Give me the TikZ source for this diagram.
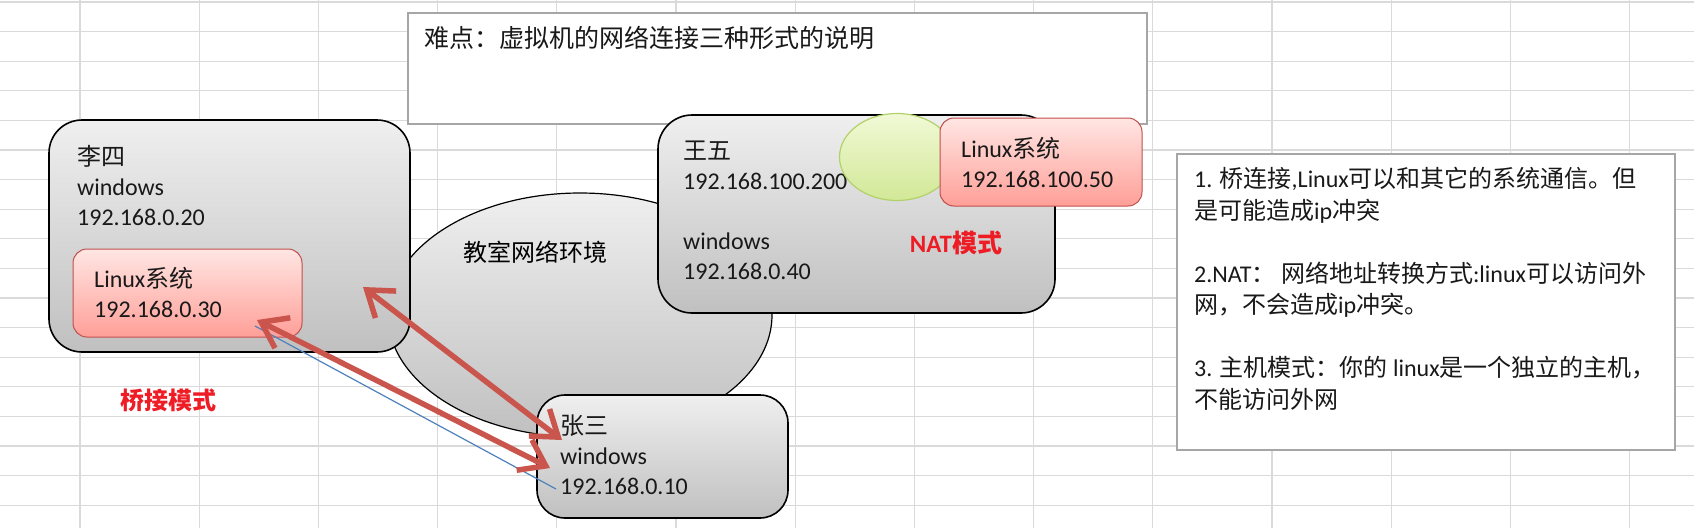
\documentclass[tikz,border=0pt]{standalone}
\usepackage{fontspec}
\setmainfont{Carlito}
\newfontfamily\cjk{Noto Sans CJK SC}
\usetikzlibrary{shapes.geometric, arrows.meta}
\definecolor{gridgray}{HTML}{DADADA}
\definecolor{boxtop}{HTML}{EFEFEF}
\definecolor{boxbot}{HTML}{C0C0C0}
\definecolor{vmtop}{HTML}{FFE6E3}
\definecolor{vmbot}{HTML}{FF9F98}
\definecolor{vmline}{HTML}{C0504D}
\definecolor{nattop}{HTML}{F1F9D6}
\definecolor{natbot}{HTML}{D2E897}
\definecolor{natline}{HTML}{B3D16A}
\definecolor{arrowred}{HTML}{C9554C}
\definecolor{linkblue}{HTML}{4F81BD}
\definecolor{labelred}{HTML}{EE1C25}
\definecolor{notegray}{HTML}{A6A6A6}

\begin{document}
\begin{tikzpicture}[
  x=1pt, y=-1pt,
  every node/.style={font=\fontsize{24}{30}\selectfont},
  hostbox/.style 2 args={
    rectangle, rounded corners=30pt, draw=black, line width=1.6pt,
    top color=boxtop, bottom color=boxbot,
    minimum width=#1, minimum height=#2, inner sep=0pt
  },
  vmbox/.style 2 args={
    rectangle, rounded corners=14pt, draw=vmline, line width=1pt,
    top color=vmtop, bottom color=vmbot,
    minimum width=#1, minimum height=#2, inner sep=0pt
  },
  notebox/.style 2 args={
    rectangle, draw=notegray, line width=1.2pt, fill=white,
    minimum width=#1, minimum height=#2, inner sep=0pt
  },
  txt/.style={anchor=north west, inner sep=0pt, align=left, text=black!90},
  modelabel/.style={font=\fontsize{25}{30}\selectfont\bfseries, text=labelred},
  bridgearr/.style={
    {Straight Barb[length=24pt,width=34pt]}-{Straight Barb[length=24pt,width=34pt]},
    line width=5.5pt, arrowred
  }
]
  \useasboundingbox[fill=white] (0,0) rectangle (1694,528);

  % spreadsheet grid
  \foreach \r in {0,...,17}
    \draw[gridgray, line width=1.2pt] (0,2+29.6*\r) -- (1694,2+29.6*\r);
  \foreach \c in {0,...,13}
    \draw[gridgray, line width=1.2pt] (80+119.2*\c,0) -- (80+119.2*\c,528);

  \node[notebox={739pt}{111pt}] (title) at (777.5,68.5) {};
  \node[txt, font=\fontsize{25}{30}\selectfont\cjk] (titletext) at (424,26)
    {难点：虚拟机的网络连接三种形式的说明};

  % classroom network
  \node[ellipse, draw=black, line width=1.2pt, top color=boxtop, bottom color=boxbot,
        minimum width=384pt, minimum height=244pt] (classnet) at (580,315) {};
  \node[font=\fontsize{24}{30}\selectfont\cjk] (netlabel) at (535,252) {教室网络环境};

  \node[hostbox={361pt}{232pt}, rounded corners=33pt] (lisi) at (229.5,236) {};
  \node[txt] (lisitext) at (77,145) {{\cjk 李四}\\windows\\192.168.0.20};
  \node[vmbox={229pt}{88pt}] (linuxA) at (187.5,293) {};
  \node[txt] (linuxAtext) at (94,267) {Linux{\cjk 系统}\\192.168.0.30};

  \node[hostbox={397pt}{198pt}, rounded corners=34pt] (wangwu) at (856.5,214) {};
  \node[txt] (wangwutext) at (683,141) {{\cjk 王五}\\192.168.100.200\\[30pt]windows\\192.168.0.40};
  \node[ellipse, draw=natline, line width=1.2pt, top color=nattop, bottom color=natbot,
        minimum width=115pt, minimum height=87pt] (natcircle) at (897,157) {};
  \node[vmbox={202pt}{88pt}] (linuxB) at (1041,162) {};
  \node[txt] (linuxBtext) at (961,137) {Linux{\cjk 系统}\\192.168.100.50};
  \node[modelabel] (natlabel) at (956,243) {NAT{\cjk 模式}};

  \node[hostbox={251pt}{123pt}, rounded corners=28pt] (zhangsan) at (662.5,456.5) {};
  \node[txt] (zhangsantext) at (560,415) {{\cjk 张三}\\windows\\192.168.0.10};

  \node[modelabel, font=\fontsize{24}{30}\selectfont\bfseries\cjk] (bridgelabel) at (168,400) {桥接模式};

  \node[notebox={498pt}{296pt}] (notes) at (1426,302) {};
  \node[txt, font=\fontsize{24}{31.5}\selectfont] (notestext) at (1194,167) {
    1. {\cjk 桥连接},Linux{\cjk 可以和其它的系统通信。但}\\
    {\cjk 是可能造成}ip{\cjk 冲突}\\[31.5pt]
    2.NAT{\cjk ： 网络地址转换方式}:linux{\cjk 可以访问外}\\
    {\cjk 网，不会造成}ip{\cjk 冲突。}\\[31.5pt]
    3. {\cjk 主机模式：你的} linux{\cjk 是一个独立的主机，}\\
    {\cjk 不能访问外网}
  };

  % bridged links
  \coordinate (lisiIn) at (363,287);
  \coordinate (linuxAIn) at (257,320);
  \coordinate (linuxAEdge) at (255,326);
  \coordinate (zsName) at (562,440);
  \coordinate (zsWin) at (550,468);
  \coordinate (zsIp) at (556,489);

  \draw[linkblue, line width=1.2pt] (linuxAEdge) -- (zsIp);
  \draw[bridgearr] (lisiIn) -- (zsName);
  \draw[bridgearr] (linuxAIn) -- (zsWin);
\end{tikzpicture}
\end{document}
